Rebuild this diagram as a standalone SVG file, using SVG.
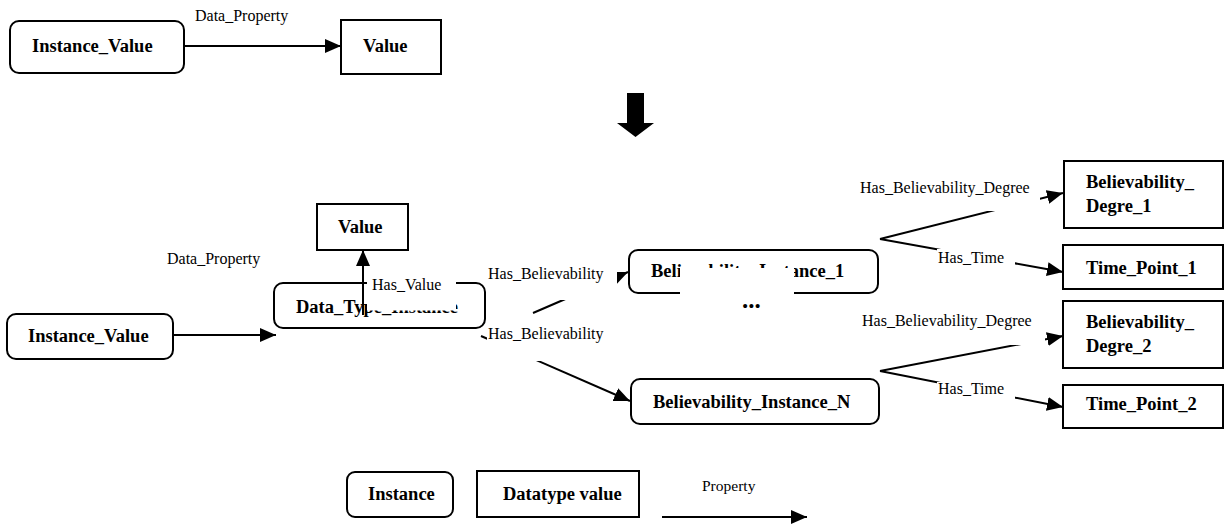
<svg xmlns="http://www.w3.org/2000/svg" width="1226" height="527" viewBox="0 0 1226 527">
<style>
.box{fill:#fff;stroke:#000;stroke-width:2}
.nt{font-family:"Liberation Serif",serif;font-weight:bold;font-size:18.5px;fill:#000}
.lt{font-family:"Liberation Serif",serif;font-size:16px;fill:#000}
.ln{stroke:#000;stroke-width:2;fill:none}
.bg{fill:#fff;stroke:none}
</style>
<defs>
<marker id="ah" markerUnits="userSpaceOnUse" markerWidth="16" markerHeight="14" refX="16" refY="7" orient="auto">
<path d="M0,0 L16,7 L0,14 z" fill="#000"/>
</marker>
</defs>
<rect width="1226" height="527" fill="#fff"/>

<!-- top part -->
<g id="top_instance_value"><rect class="box" x="10" y="21" width="174" height="52" rx="9"/><text class="nt" x="32" y="52">Instance_Value</text></g>
<g id="top_value"><rect class="box" x="341" y="20" width="100" height="54"/><text class="nt" x="363" y="52">Value</text></g>

<g id="transform_arrow"><polygon points="627,93 644,93 644,123 654,123 635.5,137 617,123 627,123" fill="#000"/></g>

<!-- middle nodes -->
<g id="mid_value"><rect class="box" x="317" y="204" width="91" height="46"/><text class="nt" x="338" y="233">Value</text></g>
<g id="mid_instance_value"><rect class="box" x="7" y="314" width="166" height="45" rx="9"/><text class="nt" x="28" y="342">Instance_Value</text></g>
<g id="data_type_instance"><rect class="box" x="274" y="283" width="211" height="45" rx="9"/><text class="nt" x="296" y="313">Data_Type_Instance</text></g>
<g id="believability_instance_1"><rect class="box" x="629" y="250" width="249" height="43" rx="9"/><text class="nt" x="651" y="277">Believability_Instance_1</text></g>
<g id="believability_instance_n"><rect class="box" x="631" y="379" width="248" height="45" rx="9"/><text class="nt" x="653" y="408">Believability_Instance_N</text></g>
<g id="believability_degre_1"><rect class="box" x="1064" y="161" width="159" height="67"/><text class="nt" x="1086" y="188">Believability_</text><text class="nt" x="1086" y="212">Degre_1</text></g>
<g id="time_point_1"><rect class="box" x="1063" y="245" width="160" height="44"/><text class="nt" x="1086" y="274">Time_Point_1</text></g>
<g id="believability_degre_2"><rect class="box" x="1063" y="301" width="160" height="67"/><text class="nt" x="1086" y="328">Believability_</text><text class="nt" x="1086" y="352">Degre_2</text></g>
<g id="time_point_2"><rect class="box" x="1063" y="385" width="160" height="43"/><text class="nt" x="1086" y="410">Time_Point_2</text></g>

<!-- legend -->
<g id="legend_instance"><rect class="box" x="347" y="472" width="106" height="45" rx="8"/><text class="nt" x="368" y="500">Instance</text></g>
<g id="legend_datatype"><rect class="box" x="477" y="471" width="162" height="46"/><text class="nt" x="503" y="500">Datatype value</text></g>

<g id="connectors">
<!-- top -->
<line class="ln" x1="184" y1="46" x2="341" y2="46" marker-end="url(#ah)"/>
<text class="lt" x="195" y="21">Data_Property</text>

<!-- middle Data_Property -->
<line class="ln" x1="173" y1="335" x2="276" y2="335" marker-end="url(#ah)"/>
<text class="lt" x="167" y="264">Data_Property</text>

<!-- Has_Value -->
<line class="ln" x1="363" y1="315" x2="363" y2="250" marker-end="url(#ah)"/>
<rect class="bg" x="367" y="276" width="89" height="34.5"/>
<text class="lt" x="372" y="290">Has_Value</text>

<!-- Has_Believability 1 -->
<line class="ln" x1="533" y1="313" x2="628" y2="272" marker-end="url(#ah)"/>
<rect class="bg" x="486" y="262" width="131" height="38"/>
<text class="lt" x="488" y="279">Has_Believability</text>

<!-- Has_Believability N -->
<line class="ln" x1="481" y1="336" x2="630" y2="401" marker-end="url(#ah)"/>
<rect class="bg" x="487" y="322" width="122" height="39"/>
<text class="lt" x="488" y="339">Has_Believability</text>

<!-- ellipsis -->
<rect class="bg" x="680" y="268" width="114" height="30"/>
<text class="nt" x="742" y="308" style="font-size:25px">...</text>

<!-- right group 1 -->
<line class="ln" x1="880" y1="239" x2="1063" y2="193" marker-end="url(#ah)"/>
<line class="ln" x1="880" y1="239" x2="1063" y2="272" marker-end="url(#ah)"/>
<rect class="bg" x="856" y="176" width="184" height="35"/>
<text class="lt" x="860" y="193">Has_Believability_Degree</text>
<rect class="bg" x="937" y="249" width="78" height="20"/>
<text class="lt" x="938" y="263">Has_Time</text>

<!-- right group 2 -->
<line class="ln" x1="880" y1="371" x2="1063" y2="336" marker-end="url(#ah)"/>
<line class="ln" x1="880" y1="371" x2="1063" y2="407" marker-end="url(#ah)"/>
<rect class="bg" x="858" y="309" width="187" height="36"/>
<text class="lt" x="862" y="326">Has_Believability_Degree</text>
<rect class="bg" x="937" y="382" width="78" height="17"/>
<text class="lt" x="938" y="394">Has_Time</text>

<!-- legend property -->
<line class="ln" x1="662" y1="517" x2="807" y2="517" marker-end="url(#ah)"/>
<text class="lt" x="702" y="491" style="font-size:15.5px">Property</text>
</g>
</svg>
